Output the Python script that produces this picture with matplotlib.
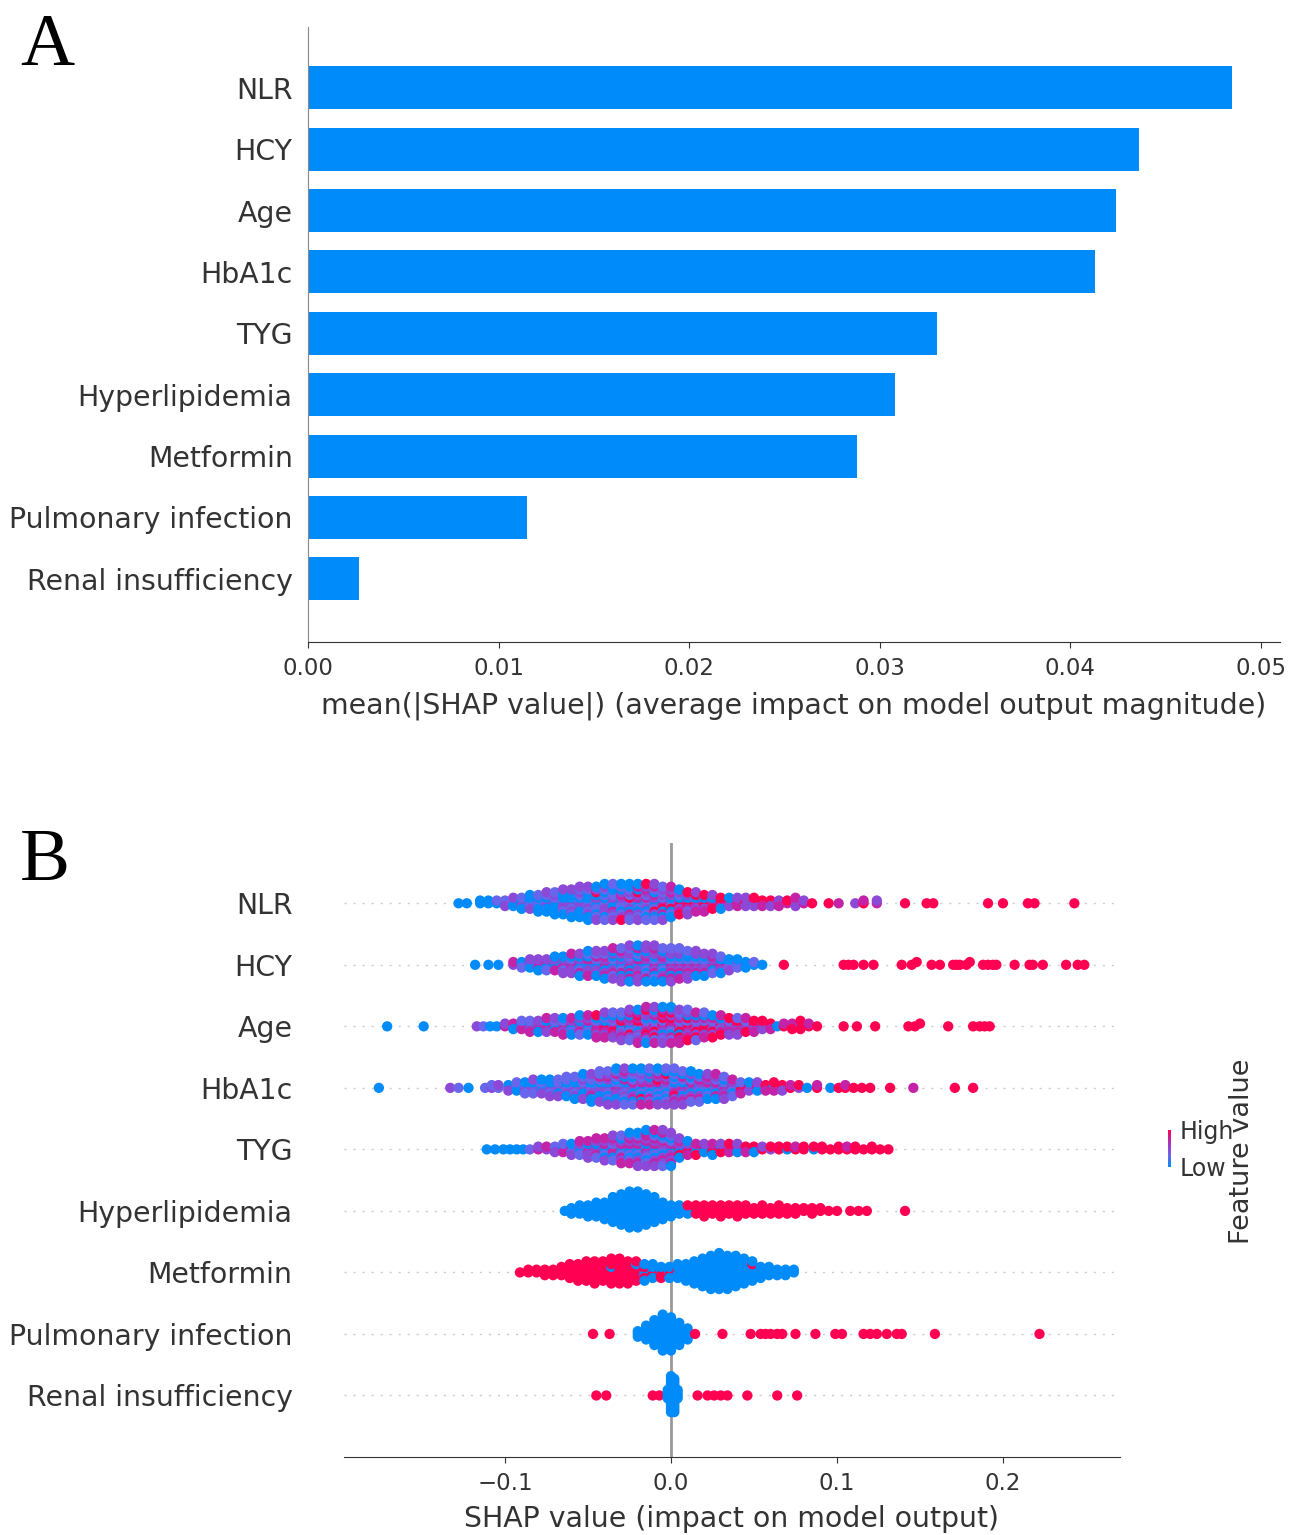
import numpy as np
import matplotlib.pyplot as plt
from matplotlib.colors import LinearSegmentedColormap
from matplotlib.cm import ScalarMappable
from matplotlib.colors import Normalize

# ---- panel A: mean |SHAP| ----
features = ["NLR", "HCY", "Age", "HbA1c", "TYG", "Hyperlipidemia", "Metformin",
            "Pulmonary infection", "Renal insufficiency"]
mean_abs_shap = [0.0485, 0.0436, 0.0424, 0.0413, 0.0330, 0.0308, 0.0288, 0.0115, 0.0027]
bar_ticks = [0.00, 0.01, 0.02, 0.03, 0.04, 0.05]
swarm_ticks = [-0.1, 0.0, 0.1, 0.2]

# ---- panel B: beeswarm ----
# (shap value, feature level of every dot at that value) 0=low ... 4=high
nlr = [(-0.128, "0"), (-0.123, "0"), (-0.115, "00"), (-0.110, "00"), (-0.105, "01"),
       (-0.100, "012"), (-0.095, "0102"), (-0.090, "00210"), (-0.085, "001020"),
       (-0.080, "0210010"), (-0.075, "01200102"), (-0.070, "020102010"),
       (-0.065, "0120201002"), (-0.060, "10201020120"), (-0.055, "012021020102"),
       (-0.050, "2010201021020"), (-0.045, "1202101402102"), (-0.040, "02102120210210"),
       (-0.035, "12020131201021"), (-0.030, "20121302102140"), (-0.025, "02142102312010"),
       (-0.020, "12031204201320"), (-0.015, "20132102130214"), (-0.010, "12021340210312"),
       (-0.005, "2031420132012"), (0.000, "321042031203"), (0.005, "2340213240"),
       (0.010, "324032142"), (0.015, "42302432"), (0.020, "3240243"), (0.025, "423042"),
       (0.030, "24340"), (0.035, "3420"), (0.040, "4232"), (0.045, "3422"), (0.050, "0324"),
       (0.055, "243"), (0.060, "342"), (0.065, "423"), (0.070, "34"), (0.075, "4323"),
       (0.080, "32"), (0.085, "4"), (0.095, "4"), (0.101, "3"), (0.111, "2"), (0.116, "43"),
       (0.124, "32"), (0.141, "4"), (0.154, "4"), (0.158, "4"), (0.191, "4"), (0.200, "4"),
       (0.215, "4"), (0.219, "4"), (0.243, "4")]

hcy = [(-0.118, "0"), (-0.110, "0"), (-0.104, "0"), (-0.095, "23"), (-0.090, "201"),
       (-0.085, "3202"), (-0.080, "02320"), (-0.075, "23021"), (-0.070, "320230"),
       (-0.065, "2032102"), (-0.060, "02312023"), (-0.055, "230210320"),
       (-0.050, "1203202130"), (-0.045, "2301232102"), (-0.040, "02320321320"),
       (-0.035, "230120321023"), (-0.030, "3202103203212"), (-0.025, "20320132023102"),
       (-0.020, "12032021302320"), (-0.015, "23021302103202"), (-0.010, "02312032021302"),
       (-0.005, "3202130220310"), (0.000, "2031203202312"), (0.005, "023120320231"),
       (0.010, "20312030212"), (0.015, "0231203202"), (0.020, "302120320"),
       (0.025, "20320312"), (0.030, "0230210"), (0.035, "20102"), (0.040, "0210"),
       (0.045, "200"), (0.050, "01"), (0.055, "0"), (0.068, "4"), (0.104, "4"), (0.107, "4"),
       (0.110, "4"), (0.116, "4"), (0.122, "4"), (0.139, "4"), (0.145, "4"), (0.148, "4"),
       (0.157, "4"), (0.162, "4"), (0.170, "4"), (0.172, "4"), (0.174, "4"), (0.178, "4"),
       (0.180, "4"), (0.188, "4"), (0.191, "4"), (0.194, "4"), (0.196, "4"), (0.207, "4"),
       (0.216, "4"), (0.218, "4"), (0.224, "4"), (0.238, "4"), (0.245, "4"), (0.249, "4")]

age = [(-0.171, "0"), (-0.149, "0"), (-0.117, "2"), (-0.113, "1"), (-0.109, "0"),
       (-0.105, "0"), (-0.100, "32"), (-0.095, "230"), (-0.090, "2031"), (-0.085, "30213"),
       (-0.080, "02320"), (-0.075, "213023"), (-0.070, "320132"), (-0.065, "0231203"),
       (-0.060, "2302130"), (-0.055, "13203210"), (-0.050, "32031203"),
       (-0.045, "023130243"), (-0.040, "3240312032"), (-0.035, "2031423021"),
       (-0.030, "32041320312"), (-0.025, "430213402312"), (-0.020, "2314032413203"),
       (-0.015, "34213042321403"), (-0.010, "43214023421032"), (-0.005, "24312403241320"),
       (0.000, "34231402341230"), (0.005, "4321430241323"), (0.010, "324134203241"),
       (0.015, "43214320431"), (0.020, "3241432031"), (0.025, "432143204"),
       (0.030, "34123043"), (0.035, "4321342"), (0.040, "3424312"), (0.045, "432143"),
       (0.050, "34243"), (0.055, "4324"), (0.060, "343"), (0.064, "0"), (0.068, "43"),
       (0.073, "434"), (0.078, "3244"), (0.083, "43"), (0.088, "4"), (0.104, "4"),
       (0.112, "4"), (0.123, "4"), (0.143, "4"), (0.147, "4"), (0.150, "4"), (0.167, "4"),
       (0.182, "4"), (0.186, "4"), (0.189, "4"), (0.192, "4")]

hba1c = [(-0.176, "0"), (-0.133, "2"), (-0.128, "1"), (-0.122, "0"), (-0.112, "1"),
         (-0.108, "21"), (-0.104, "12"), (-0.098, "102"), (-0.093, "2101"),
         (-0.088, "01201"), (-0.083, "102012"), (-0.078, "210120"), (-0.073, "0120102"),
         (-0.068, "1021012"), (-0.063, "20102101"), (-0.058, "012010210"),
         (-0.053, "1021020120"), (-0.048, "20102131020"), (-0.043, "012021030121"),
         (-0.038, "1020120312012"), (-0.033, "20312021030120"), (-0.028, "01201320120312"),
         (-0.023, "10230120310210"), (-0.018, "21031201420130"), (-0.013, "02130210321031"),
         (-0.008, "12031402130120"), (-0.003, "30120312041021"), (0.002, "01203140213021"),
         (0.007, "2130210320312"), (0.012, "102301203210"), (0.017, "30120321301"),
         (0.022, "0213021302"), (0.027, "1023013203"), (0.032, "203120312"),
         (0.037, "0312031"), (0.042, "20413"), (0.047, "3420"), (0.052, "4302"),
         (0.057, "243"), (0.062, "4034"), (0.067, "342"), (0.072, "43"), (0.077, "24"),
         (0.082, "0"), (0.088, "43"), (0.096, "0"), (0.101, "4"), (0.105, "43"),
         (0.110, "4"), (0.115, "4"), (0.120, "4"), (0.132, "4"), (0.146, "3"),
         (0.171, "4"), (0.182, "4")]

tyg = [(-0.111, "0"), (-0.106, "0"), (-0.101, "0"), (-0.097, "0"), (-0.093, "0"),
       (-0.089, "0"), (-0.085, "1"), (-0.080, "32"), (-0.075, "23"), (-0.070, "312"),
       (-0.065, "2031"), (-0.060, "23102"), (-0.055, "320213"), (-0.050, "2130232"),
       (-0.045, "13203213"), (-0.040, "320312032"), (-0.035, "2031320312"),
       (-0.030, "32031230213"), (-0.025, "230312031230"), (-0.020, "3203120321302"),
       (-0.015, "21302312031320"), (-0.010, "32031203213023"), (-0.005, "23120321302312"),
       (0.000, "3203213021320"), (0.005, "43024302"), (0.010, "304230"), (0.015, "42034"),
       (0.020, "3402"), (0.025, "42430"), (0.030, "3042"), (0.035, "4234"), (0.040, "4302"),
       (0.045, "243"), (0.050, "340"), (0.055, "42"), (0.060, "24"), (0.065, "44"),
       (0.070, "04"), (0.075, "43"), (0.080, "44"), (0.086, "04"), (0.091, "44"),
       (0.096, "4"), (0.101, "44"), (0.106, "43"), (0.111, "44"), (0.116, "4"),
       (0.121, "44"), (0.126, "4"), (0.131, "4")]

hyperlipidemia = [(-0.064, "0"), (-0.060, "000"), (-0.055, "0000"), (-0.050, "00000"),
                  (-0.045, "000000"), (-0.040, "0000000"), (-0.035, "0000000000"),
                  (-0.030, "000000000000"), (-0.025, "00000000000000"),
                  (-0.020, "00000000000000"), (-0.015, "000000000000"),
                  (-0.010, "0000000000"), (-0.005, "0000000"), (0.000, "00000"),
                  (0.005, "0000"), (0.010, "0004"), (0.015, "0444"), (0.020, "44444"),
                  (0.025, "4444"), (0.030, "44444"), (0.035, "4444"), (0.040, "44444"),
                  (0.045, "4444"), (0.050, "444"), (0.055, "4444"), (0.060, "444"),
                  (0.065, "4444"), (0.070, "444"), (0.075, "444"), (0.080, "44"),
                  (0.085, "444"), (0.090, "44"), (0.095, "4"), (0.100, "4"), (0.108, "4"),
                  (0.113, "4"), (0.118, "4"), (0.141, "4")]

metformin = [(-0.091, "4"), (-0.086, "44"), (-0.081, "44"), (-0.076, "444"),
             (-0.071, "444"), (-0.066, "4444"), (-0.061, "444444"), (-0.056, "4444444"),
             (-0.051, "44444444"), (-0.046, "444444444"), (-0.041, "44444444"),
             (-0.036, "4440444444"), (-0.031, "4444444444"), (-0.026, "444444444"),
             (-0.021, "44444044"), (-0.016, "0404400"), (-0.011, "404000"),
             (-0.006, "00404"), (-0.001, "00400"), (0.004, "040000"), (0.009, "0000000"),
             (0.014, "000000000"), (0.019, "00000000000"), (0.024, "0000000000000"),
             (0.029, "00000000000000"), (0.034, "0000000000000"), (0.039, "000000000000"),
             (0.044, "0000000000"), (0.049, "00000400"), (0.054, "00000"), (0.059, "0000"),
             (0.064, "000"), (0.069, "000"), (0.074, "00")]

pulmonary = [(-0.047, "4"), (-0.037, "4"), (-0.020, "000"), (-0.015, "000000"),
             (-0.010, "0000000000"), (-0.005, "00000000000000"), (0.000, "0000000000000"),
             (0.005, "000000000"), (0.010, "00000"), (0.0145, "4"), (0.031, "4"),
             (0.048, "4"), (0.054, "4"), (0.057, "4"), (0.060, "4"), (0.064, "4"),
             (0.067, "4"), (0.075, "4"), (0.087, "4"), (0.099, "4"), (0.103, "4"),
             (0.116, "4"), (0.120, "4"), (0.124, "4"), (0.130, "4"), (0.136, "4"),
             (0.139, "4"), (0.159, "4"), (0.222, "4")]

renal = [(-0.045, "4"), (-0.039, "4"), (-0.011, "4"), (-0.007, "4"), (-0.002, "0000"),
         (0.000, "00000000000000"), (0.002, "0000000000000"), (0.004, "0000"),
         (0.016, "4"), (0.022, "4"), (0.026, "4"), (0.030, "4"), (0.034, "4"),
         (0.046, "4"), (0.064, "4"), (0.076, "4")]

swarm_rows = [nlr, hcy, age, hba1c, tyg, hyperlipidemia, metformin, pulmonary, renal]
level_value = {"0": 0.0, "1": 0.3, "2": 0.5, "3": 0.75, "4": 1.0}

shap_blue = "#008bfb"
red_blue = LinearSegmentedColormap.from_list(
    "red_blue", [(0.0, "#008bfb"), (0.3, "#6a66ee"), (0.5, "#8c48d6"),
                 (0.75, "#c323a8"), (1.0, "#ff0052")])
axis_color = "#333333"


def expand(row):
    xs, cs = [], []
    for x, lv in row:
        for ch in lv:
            xs.append(x)
            cs.append(level_value[ch])
    return np.array(xs), np.array(cs)


def swarm_offsets(xs, row_height=0.4):
    # same stacking rule as shap's beeswarm
    nbins = 100
    quant = np.round(nbins * (xs - xs.min()) / (xs.max() - xs.min() + 1e-8))
    inds = np.argsort(quant, kind="stable")
    layer, last = 0, -1
    ys = np.zeros(len(xs))
    for i in inds:
        if quant[i] != last:
            layer = 0
        ys[i] = np.ceil(layer / 2) * ((layer % 2) * 2 - 1)
        layer += 1
        last = quant[i]
    ys *= 0.9 * (row_height / np.max(ys + 1))
    return ys


W, H = 1291, 1535
fig = plt.figure(figsize=(W / 100, H / 100), dpi=100)
n = len(features)
ypos = np.arange(n)[::-1]

# ---------- A ----------
axA = fig.add_axes([308 / W, 1 - 642 / H, 972 / W, 615 / H])
axA.barh(ypos, mean_abs_shap, height=0.7, color=shap_blue)
axA.set_yticks(ypos)
axA.set_yticklabels(features, fontsize=20.4, color=axis_color)
axA.set_ylim(-1.03, 8.99)
axA.set_xlim(0, 0.051)
axA.set_xticks(bar_ticks)
axA.set_xticklabels([f"{t:.2f}" for t in bar_ticks])
axA.tick_params("y", length=0, pad=11)
axA.tick_params("x", labelsize=16.5, colors=axis_color, labelcolor=axis_color,
                length=4, pad=7)
for s in ["top", "right"]:
    axA.spines[s].set_visible(False)
axA.spines["left"].set_color("#888888")
axA.spines["bottom"].set_color(axis_color)
axA.set_xlabel("mean(|SHAP value|) (average impact on model output magnitude)",
               fontsize=20.4, color=axis_color, labelpad=8)

# ---------- B ----------
axB = fig.add_axes([344 / W, 1 - 1457 / H, 776 / W, 614 / H])
for i, row in enumerate(swarm_rows):
    y = ypos[i]
    axB.axhline(y, color="#cccccc", lw=1, dashes=(1.5, 5), zorder=-1)
    xs, cs = expand(row)
    dy = swarm_offsets(xs)
    axB.scatter(xs, y + dy, c=cs, cmap=red_blue, vmin=0, vmax=1, s=55,
                linewidth=0, zorder=3)
axB.axvline(0, color="#999999", lw=2, zorder=-1)
axB.set_xlim(-0.197, 0.2705)
axB.set_ylim(-1, 8.98)
axB.set_yticks(ypos)
axB.set_yticklabels(features, fontsize=20.4, color=axis_color)
axB.set_xticks(swarm_ticks)
axB.tick_params("y", length=0, pad=37)
axB.tick_params("x", labelsize=16.5, colors=axis_color, labelcolor=axis_color,
                length=4, pad=7)
for s in ["top", "right", "left"]:
    axB.spines[s].set_visible(False)
axB.spines["bottom"].set_color(axis_color)
axB.set_xlabel("SHAP value (impact on model output)", fontsize=20.4,
               color=axis_color, labelpad=7)

# colour bar
cax = fig.add_axes([1168 / W, 1 - 1167 / H, 3 / W, 37 / H])
cb = fig.colorbar(ScalarMappable(norm=Normalize(0, 1), cmap=red_blue), cax=cax,
                  ticks=[0, 1])
cb.set_ticklabels(["Low", "High"])
cb.ax.tick_params(labelsize=17, length=0, pad=6, labelcolor=axis_color)
cb.outline.set_visible(False)
fig.text(1242 / W, 1 - 1151 / H, "Feature value", rotation=90, ha="center",
         va="center", fontsize=19.5, color=axis_color)

# panel letters
fig.text(20 / W, 1 - 65 / H, "A", fontsize=54, family="Liberation Serif",
         va="baseline", ha="left")
fig.text(20 / W, 1 - 880 / H, "B", fontsize=54, family="Liberation Serif",
         va="baseline", ha="left")

fig.savefig("out.png", dpi=100)
